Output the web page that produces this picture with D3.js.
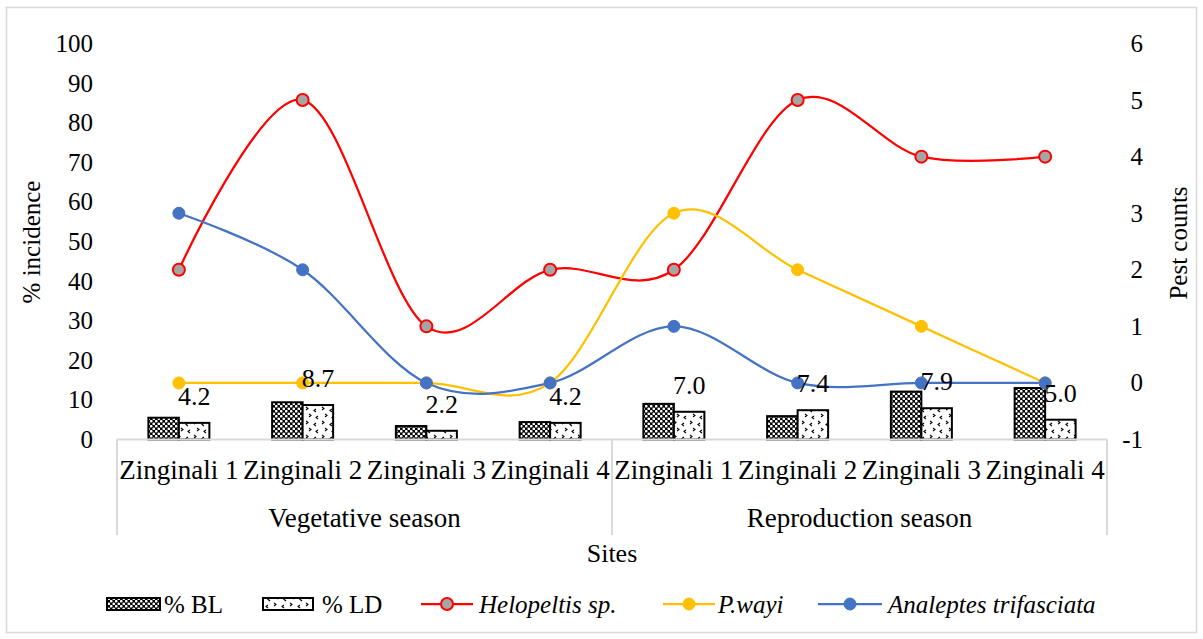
<!DOCTYPE html>
<html>
<head>
<meta charset="utf-8">
<script src="https://cdn.jsdelivr.net/npm/d3@7"></script>
<style>
  html, body { margin: 0; padding: 0; background: #fff; }
  svg { display: block; }
  text { font-family: "Liberation Serif", "Times New Roman", serif; fill: #000; }
</style>
</head>
<body>
<svg id="chart" width="1203" height="639"></svg>
<script>
// ---------- data ----------
const sites = ["Zinginali 1", "Zinginali 2", "Zinginali 3", "Zinginali 4",
               "Zinginali 1", "Zinginali 2", "Zinginali 3", "Zinginali 4"];
const seasons = ["Vegetative season", "Reproduction season"];
const pctBL = [5.5, 9.4, 3.4, 4.4, 9.0, 5.9, 12.1, 13.0];
const pctLD = [4.2, 8.7, 2.2, 4.2, 7.0, 7.4, 7.9, 5.0];
const helopeltis = [2, 5, 1, 2, 2, 5, 4, 4];
const pwayi = [0, 0, 0, 0, 3, 2, 1, 0];
const analeptes = [3, 2, 0, 0, 1, 0, 0, 0];
const leftTicks = [0, 10, 20, 30, 40, 50, 60, 70, 80, 90, 100];
const rightTicks = [-1, 0, 1, 2, 3, 4, 5, 6];

const FS = 25;
const FS_CAT = 27;
const svg = d3.select("#chart");

// patterns
const defs = svg.append("defs");
const pBL = defs.append("pattern").attr("id", "patBL").attr("patternUnits", "userSpaceOnUse")
  .attr("width", 5).attr("height", 5);
pBL.append("rect").attr("width", 5).attr("height", 5).attr("fill", "#000");
pBL.append("circle").attr("cx", 1.25).attr("cy", 1.25).attr("r", 1.35).attr("fill", "#fff");
pBL.append("circle").attr("cx", 3.75).attr("cy", 3.75).attr("r", 1.35).attr("fill", "#fff");

const pLD = defs.append("pattern").attr("id", "patLD").attr("patternUnits", "userSpaceOnUse")
  .attr("width", 16).attr("height", 14);
pLD.append("rect").attr("width", 16).attr("height", 14).attr("fill", "#fff");
["M2,1 L4,2.5 L2,4", "M12,3 L10,4.5 L12,6", "M5,8 L7,9.5 L5,11", "M14,10 L12,11.5 L14,13"]
  .forEach(d => pLD.append("path").attr("d", d).attr("fill", "none").attr("stroke", "#000").attr("stroke-width", 1.1));

// outer border
svg.append("rect").attr("x", 6.5).attr("y", 7.5).attr("width", 1190).attr("height", 625)
  .attr("fill", "none").attr("stroke", "#d9d9d9").attr("stroke-width", 1.5);

// scales
const x = d3.scaleBand().domain(d3.range(sites.length)).range([117, 1107]).paddingInner(0).paddingOuter(0);
const sub = d3.scaleBand().domain(["BL", "LD"]).range([-30.5, 30.5]);
const yL = d3.scaleLinear().domain([0, 100]).range([439.5, 43.5]);
const yR = d3.scaleLinear().domain([-1, 6]).range([439.5, 43.5]);
const cx = i => x(i) + x.bandwidth() / 2;
const plain = d => String(d);

// axes
const axL = svg.append("g").attr("transform", "translate(117,0)")
  .call(d3.axisLeft(yL).tickValues(leftTicks).tickFormat(plain).tickSize(0).tickPadding(24));
axL.select(".domain").remove();
axL.selectAll("text").attr("font-size", FS).attr("font-family", "Liberation Serif").attr("fill", "#000");

const axR = svg.append("g").attr("transform", "translate(1143,0)")
  .call(d3.axisLeft(yR).tickValues(rightTicks).tickFormat(plain).tickSize(0).tickPadding(0));
axR.select(".domain").remove();
axR.selectAll("text").attr("font-size", FS).attr("font-family", "Liberation Serif").attr("fill", "#000");

// axis titles
svg.append("text").attr("transform", "translate(40,242) rotate(-90)").attr("text-anchor", "middle")
  .attr("font-size", FS).text("% incidence");
svg.append("text").attr("transform", "translate(1187,243) rotate(-90)").attr("text-anchor", "middle")
  .attr("font-size", FS).text("Pest counts");

// bars
const gBars = svg.append("g");
gBars.selectAll("rect.bl").data(pctBL).join("rect").attr("class", "bl")
  .attr("x", (d, i) => cx(i) + sub("BL")).attr("width", sub.bandwidth())
  .attr("y", d => yL(d)).attr("height", d => yL(0) - yL(d))
  .attr("fill", "url(#patBL)").attr("stroke", "#000").attr("stroke-width", 2);
gBars.selectAll("rect.ld").data(pctLD).join("rect").attr("class", "ld")
  .attr("x", (d, i) => cx(i) + sub("LD")).attr("width", sub.bandwidth())
  .attr("y", d => yL(d)).attr("height", d => yL(0) - yL(d))
  .attr("fill", "url(#patLD)").attr("stroke", "#000").attr("stroke-width", 2);

// category axis table
const gCat = svg.append("g").attr("stroke", "#d9d9d9").attr("stroke-width", 2);
gCat.append("line").attr("x1", 117).attr("x2", 1107).attr("y1", 439.5).attr("y2", 439.5);
[0, 4, 8].forEach(k => {
  const xx = k < 8 ? x(k) : x(7) + x.bandwidth();
  gCat.append("line").attr("x1", xx).attr("x2", xx).attr("y1", 439.5).attr("y2", 535);
});

svg.append("g").selectAll("text").data(sites).join("text")
  .attr("x", (d, i) => cx(i)).attr("y", 479).attr("text-anchor", "middle").attr("font-size", FS_CAT).text(d => d);
svg.append("g").selectAll("text").data(seasons).join("text")
  .attr("x", (d, i) => (x(i * 4) + x(i * 4 + 3) + x.bandwidth()) / 2).attr("y", 527)
  .attr("text-anchor", "middle").attr("font-size", FS_CAT).text(d => d);
svg.append("text").attr("x", 612).attr("y", 562).attr("text-anchor", "middle").attr("font-size", 26).text("Sites");

// lines
const series = [
  { name: "Helopeltis sp.", values: helopeltis, color: "#FF0000", fill: "#A5A5A5" },
  { name: "P.wayi", values: pwayi, color: "#FFC000", fill: "#FFC000" },
  { name: "Analeptes trifasciata", values: analeptes, color: "#4472C4", fill: "#4472C4" }
];
const line = d3.line().x((d, i) => cx(i)).y(d => yR(d)).curve(d3.curveCatmullRom.alpha(0));
series.forEach(s => {
  svg.append("path").datum(s.values).attr("d", line).attr("fill", "none")
    .attr("stroke", s.color).attr("stroke-width", 2.25);
});
series.forEach(s => {
  svg.append("g").selectAll("circle").data(s.values).join("circle")
    .attr("cx", (d, i) => cx(i)).attr("cy", d => yR(d)).attr("r", 6)
    .attr("fill", s.fill).attr("stroke", s.color).attr("stroke-width", s.fill === s.color ? 1 : 2);
});

// data labels (LD)
svg.append("g").selectAll("text").data(pctLD).join("text")
  .attr("x", (d, i) => cx(i) + sub("LD") + sub.bandwidth() / 2)
  .attr("y", d => yL(d) - 18).attr("text-anchor", "middle").attr("font-size", 26)
  .text(d => d.toFixed(1));

// legend
const lg = svg.append("g");
const ly = 604;
lg.append("rect").attr("x", 107).attr("y", ly - 6).attr("width", 53).attr("height", 12)
  .attr("fill", "url(#patBL)").attr("stroke", "#000").attr("stroke-width", 2);
lg.append("text").attr("x", 164).attr("y", ly + 8.5).attr("font-size", FS).text("% BL");
lg.append("rect").attr("x", 263).attr("y", ly - 6).attr("width", 50).attr("height", 12)
  .attr("fill", "url(#patLD)").attr("stroke", "#000").attr("stroke-width", 2);
lg.append("text").attr("x", 322).attr("y", ly + 8.5).attr("font-size", FS).text("% LD");
const lpos = [[421, 473, 479], [663, 715, 718], [818, 882, 888]];
series.forEach((s, k) => {
  const [a, b, t] = lpos[k];
  lg.append("line").attr("x1", a).attr("x2", b).attr("y1", ly).attr("y2", ly)
    .attr("stroke", s.color).attr("stroke-width", 2.25);
  lg.append("circle").attr("cx", (a + b) / 2).attr("cy", ly).attr("r", 6)
    .attr("fill", s.fill).attr("stroke", s.color).attr("stroke-width", s.fill === s.color ? 1 : 2);
  lg.append("text").attr("x", t).attr("y", ly + 8.5).attr("font-size", FS)
    .attr("font-style", "italic").text(s.name);
});
</script>
</body>
</html>
